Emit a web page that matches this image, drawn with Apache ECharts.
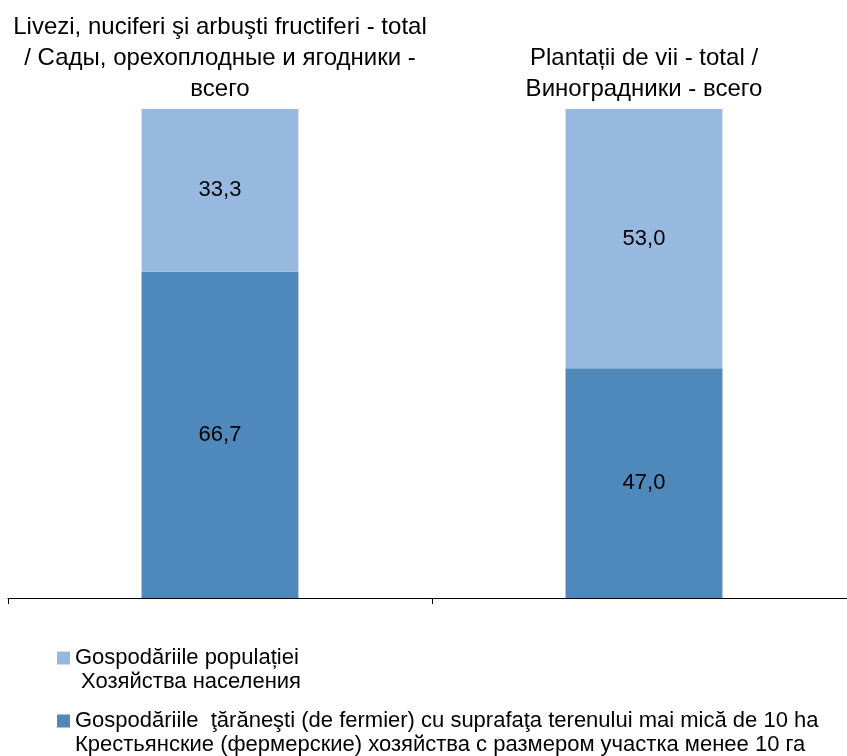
<!DOCTYPE html>
<html><head><meta charset="utf-8">
<script src="https://cdn.jsdelivr.net/npm/echarts@6/dist/echarts.min.js"></script>
<style>html,body{margin:0;padding:0;background:#fff}#c{width:847px;height:756px}</style>
</head><body><div id="c"></div>
<script>
const categories = [
  "Livezi, nuciferi şi arbuşti fructiferi - total\n/ Сады, орехоплодные и ягодники -\nвсего",
  "Plantații de vii - total /\nВиноградники - всего"
];
const seriesNames = [
  "Gospodăriile  ţărăneşti (de fermier) cu suprafaţa terenului mai mică de 10 ha\nКрестьянские (фермерские) хозяйства с размером участка менее 10 га",
  "Gospodăriile populației\n Хозяйства населения"
];
const fermierValues = [66.7, 47.0];
const populatieValues = [33.3, 53.0];

const chart = echarts.init(document.getElementById('c'));
const font = 'Liberation Sans, Arial, sans-serif';
const lbl = {show:true, position:'inside', color:'#000', fontSize:22, fontFamily:font,
  formatter: p => p.value.toFixed(1).replace('.', ',')};
const legendText = {color:'#000', fontSize:22, lineHeight:24, fontFamily:font};
const legendIcon = 'path://M0,0H13V13H0Z M0,37H13';
chart.setOption({
  animation:false,
  textStyle:{fontFamily:font},
  grid:{left:8, width:848, top:109, bottom:158, containLabel:false, outerBoundsMode:'none'},
  xAxis:[
    {type:'category', data:categories, position:'bottom',
     axisLine:{lineStyle:{color:'#000', width:1}},
     axisTick:{show:true, length:6, lineStyle:{color:'#000'}},
     axisLabel:{show:false}},
    {type:'category', data:categories, position:'top',
     axisLine:{show:false}, axisTick:{show:false},
     axisLabel:{interval:0, color:'#000', fontSize:24, lineHeight:31, margin:4, fontFamily:font}}
  ],
  yAxis:{type:'value', min:0, max:100, show:false, splitLine:{show:false}},
  legend:[
    {orient:'vertical', left:52, top:641, itemWidth:13, itemHeight:37, icon:legendIcon, itemGap:4,
     data:[seriesNames[1]], textStyle:legendText},
    {orient:'vertical', left:52, top:704, itemWidth:13, itemHeight:37, icon:legendIcon, itemGap:4,
     data:[seriesNames[0]], textStyle:legendText}
  ],
  series:[
    {name:seriesNames[0], type:'bar', stack:'a', data:fermierValues, barWidth:'37%',
     itemStyle:{color:'#4f88bb'}, label:lbl},
    {name:seriesNames[1], type:'bar', stack:'a', data:populatieValues, barWidth:'37%',
     itemStyle:{color:'#98b9df'}, label:lbl}
  ]
});
</script></body></html>
